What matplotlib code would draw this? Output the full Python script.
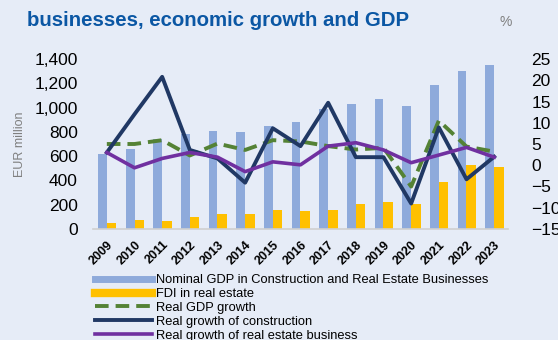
import numpy as np
import matplotlib.pyplot as plt
from matplotlib.lines import Line2D

plt.rcParams['font.family'] = ['Liberation Sans', 'DejaVu Sans']

years = ['2009', '2010', '2011', '2012', '2013', '2014', '2015', '2016',
         '2017', '2018', '2019', '2020', '2021', '2022', '2023']

# EUR million, left axis
nominal_gdp = [620, 660, 740, 780, 810, 800, 850, 880, 990, 1030, 1070, 1010, 1190, 1300, 1350]
fdi_real_estate = [50, 75, 65, 95, 125, 120, 155, 145, 155, 205, 220, 205, 385, 530, 510]

# %, right axis
real_gdp_growth = [5.0, 5.0, 5.9, 2.3, 5.1, 3.6, 5.9, 5.6, 4.5, 3.7, 4.1, -5.0, 10.5, 4.4, 3.2]
construction_growth = [3.0, 12.0, 20.8, 3.6, 1.6, -4.1, 8.7, 4.5, 14.7, 1.9, 1.9, -9.0, 8.9, -3.3, 2.0]
real_estate_growth = [3.0, -0.6, 1.6, 3.0, 1.9, -1.5, 0.8, 0.1, 4.5, 5.3, 3.6, 0.6, 2.4, 4.2, 1.9]

bg = '#e6ecf7'
c_gdp = '#8eaadb'
c_fdi = '#ffc000'
c_green = '#548235'
c_navy = '#203864'
c_purple = '#7030a0'
grey = '#7f7f7f'

fig = plt.figure(figsize=(5.58, 3.40), dpi=100, facecolor=bg)
ax = fig.add_axes([93 / 558, 111 / 340, 415 / 558, 170 / 340])
ax.set_facecolor(bg)

x = np.arange(len(years))
ax.bar(x - 0.16, nominal_gdp, width=0.32, color=c_gdp, zorder=2)
ax.bar(x + 0.17, fdi_real_estate, width=0.34, color=c_fdi, zorder=2)

ax.set_xlim(-0.5, len(years) - 0.5)
ax.set_ylim(0, 1400)
ax.set_yticks(range(0, 1401, 200))
ax.set_yticklabels([f'{v:,}' for v in range(0, 1401, 200)], fontsize=12.5)
ax.set_xticks(x)
ax.set_xticklabels(years, rotation=45, ha='right', va='top', rotation_mode='anchor',
                   fontsize=9, fontweight='bold')
ax.tick_params(axis='y', length=0, pad=11)
ax.tick_params(axis='x', length=0, pad=7)
for s in ['top', 'right', 'left']:
    ax.spines[s].set_visible(False)
ax.spines['bottom'].set_color('#d0d0d0')
ax.spines['bottom'].set_linewidth(1.2)
ax.set_ylabel('EUR million', fontsize=9, color=grey, labelpad=6)

ax2 = ax.twinx()
ax2.plot(x, real_gdp_growth, color=c_green, lw=2.8, dashes=(3.5, 1.8))
ax2.plot(x, construction_growth, color=c_navy, lw=2.8)
ax2.plot(x, real_estate_growth, color=c_purple, lw=2.6)
ax2.set_ylim(-15, 25)
ax2.set_yticks(range(-15, 26, 5))
ax2.tick_params(length=0, pad=17, labelsize=12.5)
for s in ax2.spines.values():
    s.set_visible(False)

fig.text(506 / 558, 1 - 26 / 340, '%', fontsize=10, color=grey, ha='center', va='baseline')

# title (first line runs off the top edge)
fig.text(30 / 558, 1 + 1 / 340, 'Chart 5: Nominal GDP and FDI in construction and real',
         fontsize=14.7, fontweight='bold', color='#0b57a4', va='baseline')
fig.text(27 / 558, 1 - 26 / 340, 'businesses, economic growth and GDP',
         fontsize=14.7, fontweight='bold', color='#0b57a4', va='baseline')

handles = [
    Line2D([], [], color=c_gdp, lw=5),
    Line2D([], [], color=c_fdi, lw=6),
    Line2D([], [], color=c_green, lw=2.8, dashes=(3.5, 1.8)),
    Line2D([], [], color=c_navy, lw=2.8),
    Line2D([], [], color=c_purple, lw=2.6),
]
labels = ['Nominal GDP in Construction and Real Estate Businesses', 'FDI in real estate',
          'Real GDP growth', 'Real growth of construction', 'Real growth of real estate business']
fig.legend(handles, labels, loc='upper left', bbox_to_anchor=(95 / 558, 1 - 274 / 340),
           frameon=False, fontsize=9.3, handlelength=4.4, handletextpad=0.35,
           labelspacing=0.15, borderpad=0, borderaxespad=0)

fig.savefig('out.png', dpi=100, facecolor=bg)
